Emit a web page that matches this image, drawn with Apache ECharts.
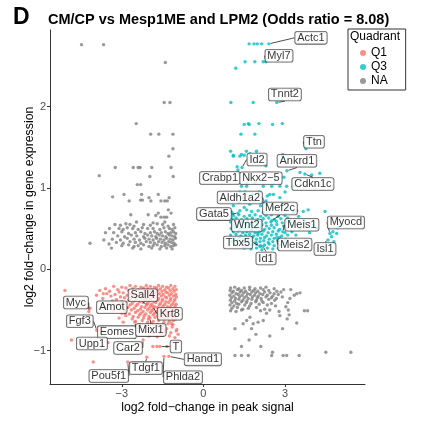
<!DOCTYPE html>
<html>
<head>
<meta charset="utf-8">
<script src="https://cdn.jsdelivr.net/npm/echarts@6/dist/echarts.min.js"></script>
<style>
  html, body { margin: 0; padding: 0; background: #fff; }
  #chart { width: 427px; height: 423px; }
</style>
</head>
<body>
<div id="chart"></div>
<script>
// Q1: down in peak signal, down in expression
const q1Points = [
  [-5.09,-0.26],[-4.29,-0.42],[-4.17,-0.48],[-3.81,-0.26],[-3.68,-0.30],[-3.93,-0.32],[-4.85,-0.87],[-4.05,-1.14],
  [-2.95,-0.65],[-0.93,-0.89],[-1.05,-0.84],[-0.93,-0.80],[-0.98,-0.74],[-1.17,-0.67],[-1.42,-0.75],[-1.54,-0.81],
  [-1.34,-0.95],[-1.86,-0.95],[-1.71,-0.95],
  [-3.3,-0.21],[-3.0,-0.22],[-2.7,-0.20],[-2.5,-0.21],[-2.3,-0.22],[-2.1,-0.20],[-1.95,-0.21],[-1.8,-0.22],[-1.65,-0.20],[-1.5,-0.21],[-1.35,-0.22],[-1.2,-0.20],[-1.05,-0.21],
  [-3.6,-0.24],[-3.15,-0.25],[-2.85,-0.23],[-2.6,-0.24],[-2.4,-0.25],[-2.2,-0.23],[-2.05,-0.24],[-1.9,-0.25],[-1.72,-0.23],[-1.58,-0.24],[-1.42,-0.25],[-1.28,-0.23],[-1.12,-0.24],[-1.0,-0.25],
  [-3.45,-0.27],[-3.1,-0.28],[-2.75,-0.26],[-2.55,-0.27],[-2.35,-0.28],[-2.15,-0.26],[-2.0,-0.27],[-1.85,-0.28],[-1.68,-0.26],[-1.52,-0.27],[-1.38,-0.28],[-1.22,-0.26],[-1.08,-0.27],
  [-3.55,-0.30],[-3.25,-0.31],[-2.95,-0.29],[-2.65,-0.30],[-2.45,-0.31],[-2.25,-0.29],[-2.08,-0.30],[-1.92,-0.31],[-1.78,-0.29],[-1.62,-0.30],[-1.48,-0.31],[-1.32,-0.29],[-1.18,-0.30],[-1.02,-0.31],
  [-3.4,-0.33],[-3.05,-0.34],[-2.8,-0.32],[-2.58,-0.33],[-2.38,-0.34],[-2.18,-0.32],[-2.02,-0.33],[-1.88,-0.34],[-1.72,-0.32],[-1.55,-0.33],[-1.4,-0.34],[-1.25,-0.32],[-1.1,-0.33],[-0.99,-0.34],
  [-3.7,-0.36],[-3.2,-0.37],[-2.9,-0.35],[-2.68,-0.36],[-2.48,-0.37],[-2.28,-0.35],[-2.1,-0.36],[-1.95,-0.37],[-1.8,-0.35],[-1.65,-0.36],[-1.5,-0.37],[-1.35,-0.35],[-1.2,-0.36],[-1.05,-0.37],
  [-3.35,-0.39],[-3.0,-0.40],[-2.75,-0.38],[-2.55,-0.39],[-2.35,-0.40],[-2.15,-0.38],[-1.98,-0.39],[-1.82,-0.40],[-1.68,-0.38],[-1.52,-0.39],[-1.38,-0.40],[-1.22,-0.38],[-1.08,-0.39],
  [-3.5,-0.42],[-3.1,-0.43],[-2.85,-0.41],[-2.62,-0.42],[-2.42,-0.43],[-2.22,-0.41],[-2.05,-0.42],[-1.9,-0.43],[-1.75,-0.41],[-1.58,-0.42],[-1.42,-0.43],[-1.28,-0.41],[-1.12,-0.42],[-1.0,-0.43],
  [-3.25,-0.45],[-2.95,-0.46],[-2.7,-0.44],[-2.48,-0.45],[-2.28,-0.46],[-2.1,-0.44],[-1.95,-0.45],[-1.8,-0.46],[-1.62,-0.44],[-1.48,-0.45],[-1.32,-0.46],[-1.18,-0.44],[-1.04,-0.45],
  [-3.6,-0.48],[-3.05,-0.49],[-2.78,-0.47],[-2.55,-0.48],[-2.32,-0.49],[-2.15,-0.47],[-2.0,-0.48],[-1.85,-0.49],[-1.7,-0.47],[-1.55,-0.48],[-1.38,-0.49],[-1.22,-0.47],[-1.08,-0.48],
  [-3.3,-0.51],[-2.9,-0.52],[-2.65,-0.50],[-2.42,-0.51],[-2.22,-0.52],[-2.05,-0.50],[-1.9,-0.51],[-1.72,-0.52],[-1.58,-0.50],[-1.42,-0.51],[-1.28,-0.52],[-1.12,-0.50],[-1.0,-0.51],
  [-3.0,-0.54],[-2.72,-0.55],[-2.5,-0.53],[-2.3,-0.54],[-2.12,-0.55],[-1.95,-0.53],[-1.8,-0.54],[-1.65,-0.55],[-1.5,-0.53],[-1.35,-0.54],[-1.2,-0.55],[-1.05,-0.53],
  [-2.85,-0.57],[-2.58,-0.58],[-2.35,-0.56],[-2.18,-0.57],[-2.0,-0.58],[-1.85,-0.56],[-1.68,-0.57],[-1.52,-0.58],[-1.38,-0.56],[-1.22,-0.57],[-1.08,-0.58],
  [-3.1,-0.60],[-2.62,-0.61],[-2.4,-0.59],[-2.2,-0.60],[-2.02,-0.61],[-1.78,-0.59],[-1.6,-0.60],[-1.45,-0.61],[-1.3,-0.59],[-1.15,-0.60],[-1.02,-0.61],
  [-2.5,-0.64],[-2.25,-0.63],[-2.05,-0.65],[-1.85,-0.64],[-1.65,-0.63],[-1.45,-0.65],[-1.25,-0.64],[-1.1,-0.63],
  [-2.35,-0.68],[-2.1,-0.69],[-1.9,-0.67],[-1.7,-0.68],[-1.5,-0.69],[-1.3,-0.67],[-1.12,-0.68],
  [-2.4,-0.72],[-2.0,-0.73],[-1.75,-0.71],[-1.55,-0.72],[-1.35,-0.73],[-1.15,-0.71],
  [-2.15,-0.77],[-1.85,-0.78],[-1.6,-0.76],[-1.4,-0.77],[-1.2,-0.78],[-1.0,-0.76],
  [-2.0,-0.82],[-1.7,-0.83],[-1.5,-0.81],[-1.25,-0.82]
];

// Q3: up in peak signal, up in expression
const q3Points = [
  [1.68,2.77],[1.86,2.77],[1.98,2.77],[2.14,2.77],[1.53,2.55],[1.89,2.55],[2.20,2.55],[1.19,2.47],
  [1.01,2.05],[1.83,2.05],[1.50,1.78],[1.65,1.79],[1.68,1.78],[2.04,1.79],[2.54,1.78],[2.90,1.79],
  [1.38,1.66],[1.89,1.66],[1.10,1.40],[1.40,1.41],[1.50,1.40],[1.71,1.42],[2.91,1.41],[1.0,1.45],[1.58,1.45],[1.95,1.45],
  [1.10,1.39],[1.34,1.39],[1.24,1.26],[2.30,1.27],[4.28,1.18],[3.98,1.16],[3.55,1.19],
  [2.20,1.02],[2.51,1.02],[2.81,1.02],[3.06,1.02],[3.30,1.02],[3.73,1.02],[1.40,1.02],[1.59,1.02],
  [1.34,0.95],[1.53,0.95],[2.44,0.92],[2.57,0.92],[2.81,0.88],
  [1.34,0.72],[1.59,0.73],[1.77,0.71],[2.01,0.72],[2.20,0.70],[3.43,0.72],[3.67,0.71],[3.85,0.73],[4.47,0.71],
  [4.90,0.44],[4.71,0.40],[4.80,0.34],[4.76,0.46],[4.94,0.51],[5.09,0.56],
  [3.92,0.57],[4.04,0.54],[4.16,0.50],
  [1.1,0.78],[1.3,0.82],[1.5,0.76],[1.7,0.80],[1.9,0.85],[2.1,0.78],[2.3,0.84],[2.6,0.76],[2.9,0.80],[3.1,0.75],[3.3,0.70],
  [1.2,0.90],[1.45,0.88],[1.8,0.92],[2.05,0.95],[2.35,0.90],[3.0,0.95],[1.6,1.05],[1.9,1.06],[2.65,1.10],[1.05,0.70],
  [3.5,0.65],[3.7,0.60],[3.55,0.50],[3.4,0.42],[3.9,0.45],
  [1.1,0.66],[1.3,0.67],[1.5,0.65],[1.7,0.66],[1.9,0.67],[2.1,0.65],[2.3,0.66],[2.5,0.67],[2.75,0.65],[3.0,0.66],
  [1.05,0.62],[1.2,0.63],[1.4,0.61],[1.6,0.62],[1.8,0.63],[2.0,0.61],[2.2,0.62],[2.4,0.63],[2.6,0.61],[2.85,0.62],[3.1,0.63],
  [1.0,0.58],[1.15,0.59],[1.3,0.57],[1.45,0.58],[1.62,0.59],[1.78,0.57],[1.95,0.58],[2.12,0.59],[2.3,0.57],[2.48,0.58],[2.68,0.59],[2.9,0.57],[3.2,0.58],
  [1.08,0.54],[1.25,0.55],[1.4,0.53],[1.55,0.54],[1.7,0.55],[1.85,0.53],[2.0,0.54],[2.15,0.55],[2.32,0.53],[2.5,0.54],[2.7,0.55],[2.95,0.53],[3.3,0.54],
  [1.02,0.50],[1.18,0.51],[1.35,0.49],[1.5,0.50],[1.65,0.51],[1.8,0.49],[1.95,0.50],[2.1,0.51],[2.25,0.49],[2.42,0.50],[2.6,0.51],[2.8,0.49],[3.05,0.50],
  [1.1,0.46],[1.28,0.47],[1.45,0.45],[1.6,0.46],[1.75,0.47],[1.9,0.45],[2.05,0.46],[2.2,0.47],[2.38,0.45],[2.55,0.46],[2.75,0.47],[3.0,0.45],[3.25,0.46],
  [1.0,0.42],[1.2,0.43],[1.38,0.41],[1.55,0.42],[1.7,0.43],[1.85,0.41],[2.0,0.42],[2.15,0.43],[2.32,0.41],[2.5,0.42],[2.68,0.43],[2.88,0.41],[3.1,0.42],
  [1.12,0.38],[1.3,0.39],[1.48,0.37],[1.65,0.38],[1.8,0.39],[1.95,0.37],[2.1,0.38],[2.25,0.39],[2.42,0.37],[2.6,0.38],[2.8,0.39],[3.02,0.37],
  [1.05,0.34],[1.25,0.35],[1.45,0.33],[1.62,0.34],[1.78,0.35],[1.92,0.33],[2.08,0.34],[2.22,0.35],[2.38,0.33],[2.55,0.34],[2.75,0.35],[2.95,0.33],
  [1.15,0.30],[1.4,0.31],[1.6,0.29],[1.78,0.30],[1.95,0.31],[2.1,0.29],[2.25,0.30],[2.42,0.31],[2.6,0.29],[2.8,0.30],
  [1.5,0.26],[1.75,0.25],[1.95,0.26],[2.15,0.24],[2.35,0.26],[2.55,0.25],[2.75,0.26]
];

// NA: the two off-diagonal quadrants
const naPoints = [
  [-4.48,2.76],[-3.67,2.76],[-1.40,2.54],[-1.44,2.05],[-1.23,2.05],[-2.47,1.79],[-1.94,1.66],[-1.64,1.66],[-1.12,1.66],
  [-1.12,1.48],[-1.27,1.39],[-3.24,1.25],[-2.58,1.25],[-2.40,1.25],[-2.33,1.25],[-1.90,1.25],[-1.19,1.25],[-3.83,1.15],
  [-1.97,1.14],[-1.11,1.14],[-2.43,1.04],[-2.31,1.04],[-3.34,0.89],[-2.92,0.92],[-2.73,0.84],[-2.31,0.85],[-2.24,0.85],
  [-2.27,0.92],[-2.00,0.88],[-1.93,0.84],[-1.66,0.92],[-1.56,0.84],[-1.42,0.84],[-1.33,0.84],[-1.26,0.88],[-1.29,0.73],
  [-1.19,0.69],[-2.67,0.67],[-2.03,0.67],[-1.75,0.66],[-1.66,0.69],[-1.56,0.64],[-1.44,0.64],[-1.35,0.64],[-1.85,0.57],
  [-2.46,0.58],[-1.42,0.58],[-4.17,0.32],[-3.66,0.36],[-3.47,0.31],[-3.38,0.26],[-3.6,0.45],[-3.45,0.50],
  [-3.25,0.55],[-3.05,0.54],[-2.85,0.56],[-2.7,0.55],[-2.55,0.53],[-2.2,0.55],[-1.95,0.54],[-1.7,0.56],[-1.5,0.55],[-1.3,0.53],[-1.1,0.55],
  [-3.1,0.50],[-2.95,0.49],[-2.8,0.51],[-2.6,0.50],[-2.4,0.49],[-2.25,0.51],[-2.05,0.50],[-1.85,0.50],[-1.6,0.49],[-1.45,0.51],[-1.25,0.50],[-1.15,0.49],[-1.05,0.51],
  [-3.3,0.45],[-3.0,0.46],[-2.75,0.44],[-2.5,0.45],[-2.3,0.46],[-2.15,0.44],[-1.95,0.45],[-1.8,0.46],[-1.7,0.44],[-1.55,0.45],[-1.4,0.46],[-1.3,0.44],[-1.2,0.45],[-1.1,0.46],[-1.02,0.44],
  [-3.15,0.41],[-2.9,0.40],[-2.65,0.42],[-2.45,0.41],[-2.2,0.40],[-2.05,0.42],[-1.9,0.41],[-1.75,0.40],[-1.62,0.42],[-1.5,0.41],[-1.38,0.40],[-1.25,0.42],[-1.15,0.41],[-1.05,0.40],
  [-3.35,0.37],[-3.05,0.36],[-2.8,0.38],[-2.55,0.37],[-2.35,0.36],[-2.15,0.38],[-2.0,0.37],[-1.85,0.36],[-1.72,0.38],[-1.58,0.37],[-1.45,0.36],[-1.35,0.38],[-1.22,0.37],[-1.12,0.36],[-1.03,0.38],
  [-3.2,0.33],[-2.95,0.32],[-2.7,0.34],[-2.5,0.33],[-2.3,0.32],[-2.1,0.34],[-1.95,0.33],[-1.8,0.32],[-1.65,0.34],[-1.52,0.33],[-1.4,0.32],[-1.28,0.34],[-1.18,0.33],[-1.08,0.32],
  [-3.0,0.29],[-2.75,0.30],[-2.55,0.28],[-2.4,0.29],[-2.2,0.30],[-2.0,0.28],[-1.85,0.29],[-1.7,0.30],[-1.55,0.28],[-1.42,0.29],[-1.3,0.30],[-1.2,0.28],[-1.1,0.29],[-1.02,0.30],
  [-2.6,0.26],[-2.3,0.25],[-1.9,0.26],[-1.6,0.25],[-1.35,0.26],[-1.15,0.25],
  [3.21,-0.25],[3.43,-0.30],[3.55,-0.29],[3.34,-0.32],[3.18,-0.36],[3.10,-0.41],[3.03,-0.46],[3.12,-0.50],[3.15,-0.56],
  [2.44,-0.50],[2.32,-0.54],[2.20,-0.63],[2.01,-0.65],[1.83,-0.67],[1.59,-0.63],[1.46,-0.67],[1.71,-0.59],[2.78,-0.52],
  [2.81,-0.57],[3.71,-0.51],[3.83,-0.51],[3.08,-0.61],[3.43,-0.66],[1.16,-0.73],[2.91,-0.73],[1.77,-0.73],[1.93,-0.80],
  [1.68,-0.87],[2.44,-0.82],[1.40,-0.95],[2.11,-0.95],[1.16,-1.06],[1.40,-1.06],[1.65,-1.06],[2.51,-1.06],[2.54,-1.02],
  [2.93,-1.06],[3.06,-1.06],[3.52,-1.06],[4.50,-1.02],[5.42,-1.02],
  [1.0,-0.23],[1.15,-0.22],[1.3,-0.24],[1.5,-0.23],[1.7,-0.22],[1.9,-0.24],[2.1,-0.23],[2.3,-0.22],[2.6,-0.24],
  [0.98,-0.26],[1.1,-0.27],[1.25,-0.25],[1.4,-0.26],[1.55,-0.27],[1.7,-0.25],[1.85,-0.26],[2.0,-0.27],[2.2,-0.25],[2.4,-0.26],[2.7,-0.27],[2.95,-0.25],
  [1.05,-0.29],[1.2,-0.30],[1.35,-0.28],[1.48,-0.29],[1.62,-0.30],[1.78,-0.28],[1.92,-0.29],[2.08,-0.30],[2.25,-0.28],[2.45,-0.29],[2.6,-0.30],[2.85,-0.28],
  [0.97,-0.32],[1.12,-0.33],[1.28,-0.31],[1.42,-0.32],[1.58,-0.33],[1.72,-0.31],[1.88,-0.32],[2.02,-0.33],[2.18,-0.31],[2.35,-0.32],[2.55,-0.33],[2.75,-0.31],
  [1.03,-0.35],[1.18,-0.36],[1.33,-0.34],[1.5,-0.35],[1.65,-0.36],[1.8,-0.34],[1.98,-0.35],[2.12,-0.36],[2.3,-0.34],[2.5,-0.35],[2.68,-0.36],[2.9,-0.34],
  [0.99,-0.38],[1.15,-0.39],[1.3,-0.37],[1.45,-0.38],[1.6,-0.39],[1.78,-0.37],[1.95,-0.38],[2.15,-0.39],[2.4,-0.37],[2.62,-0.38],
  [1.05,-0.41],[1.22,-0.42],[1.4,-0.40],[1.58,-0.41],[1.75,-0.42],[1.92,-0.40],[2.2,-0.41],[2.5,-0.42],
  [0.98,-0.44],[1.12,-0.45],[1.3,-0.43],[1.52,-0.44],[1.7,-0.45],[2.05,-0.43],[2.35,-0.44],[2.65,-0.45],
  [1.05,-0.48],[1.25,-0.47],[1.45,-0.49],[1.65,-0.48],[1.95,-0.47],[2.25,-0.49],
  [1.0,-0.51],[1.2,-0.52],[1.4,-0.50],[2.1,-0.51]
];

// labelled genes: name, quadrant, x, y
const labelGenes = [
  ['Actc1','Q3',2.41,2.77],['Myl7','Q3',2.30,2.55],['Tnnt2','Q3',2.70,2.05],['Ttn','Q3',3.77,1.48],
  ['Id2','Q3',1.42,1.25],['Ankrd1','Q3',3.07,1.21],['Crabp1','Q3',1.27,1.22],['Nkx2−5','Q3',2.96,1.13],
  ['Cdkn1c','Q3',3.73,1.17],['Aldh1a2','Q3',2.22,0.82],['Mef2c','Q3',2.52,0.60],['Gata5','Q3',1.27,0.69],
  ['Wnt2','Q3',2.00,0.44],['Meis1','Q3',2.92,0.46],['Myocd','Q3',4.65,0.44],['Tbx5','Q3',2.08,0.28],
  ['Meis2','Q3',2.70,0.39],['Isl1','Q3',4.58,0.36],['Id1','Q3',2.19,0.28],
  ['Myc','Q1',-4.21,-0.52],['Amot','Q1',-2.89,-0.54],['Sall4','Q1',-2.08,-0.43],['Krt8','Q1',-1.86,-0.46],
  ['Fgf3','Q1',-3.92,-0.75],['Eomes','Q1',-2.52,-0.65],['Mixl1','Q1',-1.97,-0.60],['Upp1','Q1',-3.51,-0.90],
  ['Car2','Q1',-2.22,-0.87],['T','Q1',-1.60,-0.95],['Hand1','Q1',-1.27,-1.07],['Tdgf1','Q1',-2.08,-1.08],
  ['Pou5f1','Q1',-2.78,-1.14],['Phlda2','Q1',-1.45,-1.07]
];

const xTicks = [-3, 0, 3];
const yTicks = [-1, 0, 1, 2];

// where each label box sits relative to its point (px)
const labelNudge = {
  'Actc1': [42, -6], 'Myl7': [13, -6], 'Tnnt2': [8, -8], 'Ttn': [8, -7], 'Id2': [15, -8],
  'Ankrd1': [10, -10], 'Crabp1': [-18, 8], 'Nkx2−5': [-23, 1], 'Cdkn1c': [8, 10], 'Aldh1a2': [-24, -5],
  'Mef2c': [8, -12], 'Gata5': [-24, 1], 'Wnt2': [-11, -8], 'Meis1': [19, -7], 'Myocd': [16, -11],
  'Tbx5': [-22, -4], 'Meis2': [18, 7], 'Isl1': [-3, 9], 'Id1': [3, 12],
  'Myc': [-13, -9], 'Amot': [-13, -6], 'Sall4': [-4, -9], 'Krt8': [17, 7], 'Fgf3': [-17, -9],
  'Eomes': [-18, 10], 'Mixl1': [1, 12], 'Upp1': [-16, 1], 'Car2': [-15, 8], 'T': [16, 0],
  'Hand1': [34, 3], 'Tdgf1': [-1, 11], 'Pou5f1': [-19, 14], 'Phlda2': [19, 21]
};

const colors = { Q1: '#F8766D', Q3: '#00BFC4', NA: '#7F7F7F' };
const font = 'Liberation Sans, Arial, Helvetica, sans-serif';
const minus = v => (v < 0 ? '\u2212' + Math.abs(v) : String(v));

const chart = echarts.init(document.getElementById('chart'));

chart.setOption({
  animation: false,
  title: [
    { text: 'D', left: 13, top: 6, padding: 0,
      textStyle: { fontFamily: font, fontSize: 23, fontWeight: 'bold', color: '#000' } },
    { text: 'CM/CP vs Mesp1ME and LPM2 (Odds ratio = 8.08)', left: 48, top: 12, padding: 0,
      textStyle: { fontFamily: font, fontSize: 14.5, fontWeight: 'bold', color: '#000' } },
    { text: 'Quadrant', left: 350, top: 31, padding: 0,
      textStyle: { fontFamily: font, fontSize: 12, fontWeight: 'normal', color: '#000' } }
  ],
  legend: {
    data: ['Q1', 'Q3', 'NA'],
    orient: 'vertical',
    left: 348, top: 29,
    padding: [17, 18, 2, 12],
    itemGap: 0, itemWidth: 6, itemHeight: 6,
    icon: 'circle',
    borderColor: '#333', borderWidth: 1,
    textStyle: { fontFamily: font, fontSize: 12, lineHeight: 14, color: '#000' }
  },
  grid: { left: 50, right: 62, top: 30, bottom: 39 },
  xAxis: {
    type: 'value', min: -5.64, max: 5.94,
    splitLine: { show: false },
    axisLine: { show: true, onZero: false, lineStyle: { color: '#333', width: 1 } },
    axisTick: { show: true, length: 3, customValues: xTicks, lineStyle: { color: '#333' } },
    axisLabel: { customValues: xTicks, formatter: minus, margin: 4,
      fontFamily: font, fontSize: 11, color: '#4D4D4D' },
    name: 'log2 fold\u2212change in peak signal', nameLocation: 'middle', nameGap: 18,
    nameMoveOverlap: false,
    nameTextStyle: { fontFamily: font, fontSize: 12.3, color: '#000' }
  },
  yAxis: {
    type: 'value', min: -1.41, max: 2.94,
    splitLine: { show: false },
    axisLine: { show: true, onZero: false, lineStyle: { color: '#333', width: 1 } },
    axisTick: { show: true, length: 3, customValues: yTicks, lineStyle: { color: '#333' } },
    axisLabel: { customValues: yTicks, formatter: minus, margin: 4,
      fontFamily: font, fontSize: 11, color: '#4D4D4D' },
    name: 'log2 fold\u2212change in gene expression', nameLocation: 'middle', nameGap: 14,
    nameMoveOverlap: false,
    nameTextStyle: { fontFamily: font, fontSize: 12.3, color: '#000' }
  },
  series: [
    { name: 'NA', type: 'scatter', data: naPoints, symbolSize: 3.4, itemStyle: { color: colors.NA }, silent: true },
    { name: 'Q1', type: 'scatter', data: q1Points, symbolSize: 3.4, itemStyle: { color: colors.Q1 }, silent: true },
    { name: 'Q3', type: 'scatter', data: q3Points, symbolSize: 3.4, itemStyle: { color: colors.Q3 }, silent: true },
    {
      name: 'genes', type: 'scatter', z: 5, silent: true,
      symbolSize: 3.4,
      data: labelGenes.map(g => ({ name: g[0], value: [g[2], g[3]], itemStyle: { color: colors[g[1]] } })),
      label: {
        show: true, position: 'inside', formatter: '{b}',
        fontFamily: font, fontSize: 11, color: '#000',
        backgroundColor: '#fff', borderColor: '#333', borderWidth: 0.8, borderRadius: 2,
        padding: [1, 2, 0, 2]
      },
      labelLine: { show: true, lineStyle: { color: '#000', width: 0.7 } },
      labelLayout: p => {
        const n = labelNudge[labelGenes[p.dataIndex][0]];
        return { dx: n[0], dy: n[1] };
      }
    }
  ]
});
</script>
</body>
</html>
